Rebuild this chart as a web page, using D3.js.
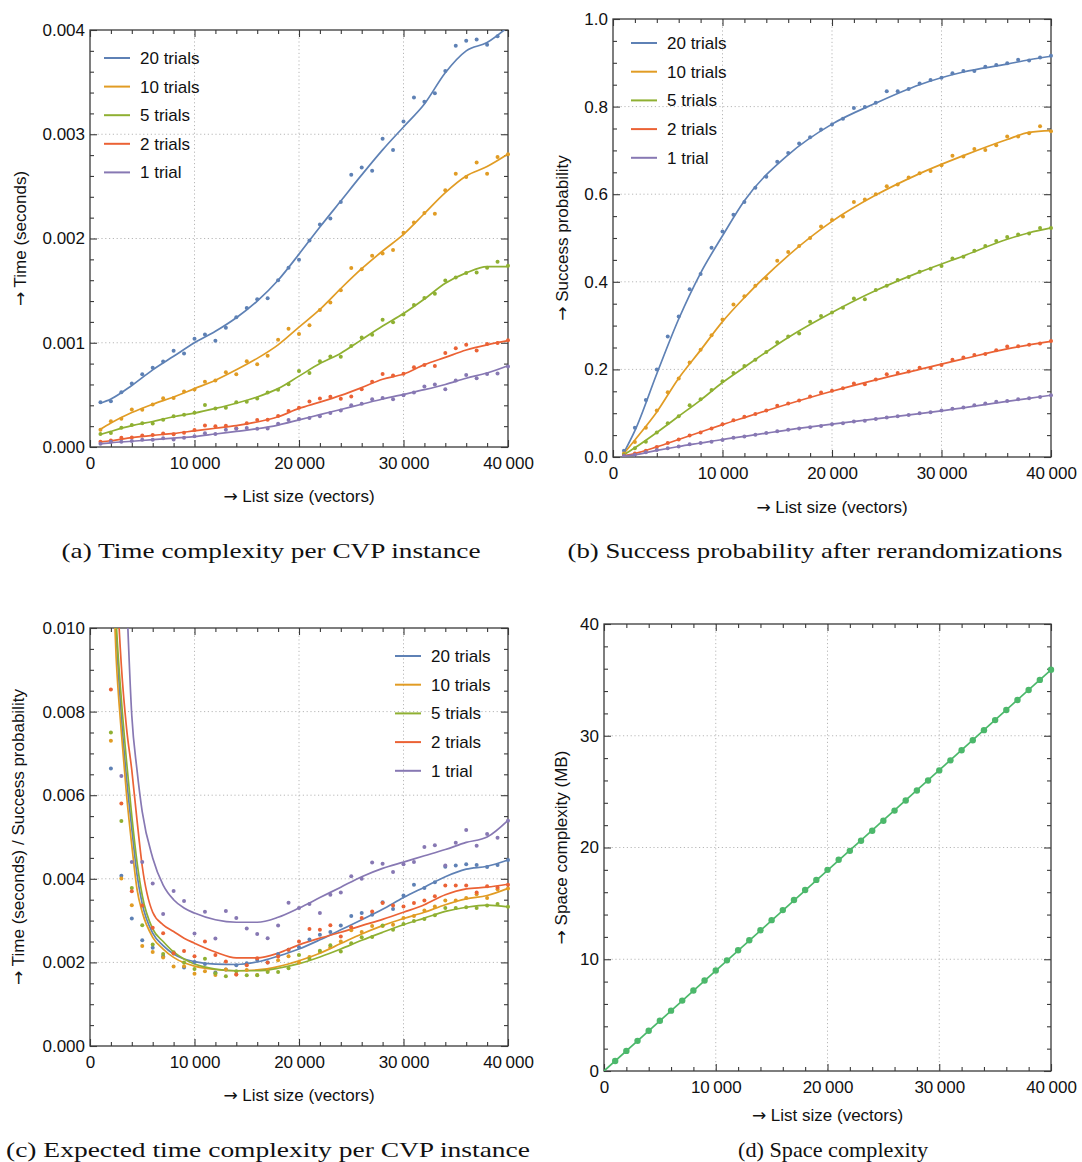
<!DOCTYPE html>
<html>
<head>
<meta charset="utf-8">
<script src="https://cdn.jsdelivr.net/npm/d3@7"></script>
<style>
  body { margin: 0; background: #fff; }
  text { font-family: "Liberation Sans", Arial, sans-serif; }
  text.caption { font-family: "Liberation Serif", "DejaVu Serif", serif; }
  tspan.arrow { font-family: "DejaVu Sans", sans-serif; }
</style>
</head>
<body>
<svg id="chart" width="1082" height="1162"></svg>
<script>
// list sizes (x) shared by every measured series
const listSize = [1000, 2000, 3000, 4000, 5000, 6000, 7000, 8000, 9000, 10000,
  11000, 12000, 13000, 14000, 15000, 16000, 17000, 18000, 19000, 20000,
  21000, 22000, 23000, 24000, 25000, 26000, 27000, 28000, 29000, 30000,
  31000, 32000, 33000, 34000, 35000, 36000, 37000, 38000, 39000, 40000];

const seriesNames = ["20 trials", "10 trials", "5 trials", "2 trials", "1 trial"];
const seriesColors = ["#5e81b5", "#e19c24", "#8fb032", "#eb6235", "#8778b3"];

// (a) time per CVP instance (seconds)
const timeA20 = [0.00043, 0.00044, 0.000525, 0.00061, 0.000697, 0.00076, 0.00082, 0.000924, 0.000898, 0.001038,
  0.00108, 0.00102, 0.001143, 0.001245, 0.001334, 0.001417, 0.001427, 0.0016, 0.00172, 0.001796,
  0.00198, 0.002135, 0.002192, 0.00235, 0.002612, 0.00268, 0.00265, 0.002958, 0.002849, 0.003122,
  0.003353, 0.003311, 0.003394, 0.003606, 0.00385, 0.003897, 0.00391, 0.003859, 0.003939, 0.00402];
const timeA10 = [0.000166, 0.000248, 0.00027, 0.00036, 0.000357, 0.000408, 0.000468, 0.000471, 0.000532, 0.000551,
  0.000627, 0.000637, 0.000717, 0.000697, 0.000822, 0.000793, 0.000876, 0.001029, 0.001134, 0.001083,
  0.001169, 0.001315, 0.001385, 0.001503, 0.001717, 0.001704, 0.001834, 0.001857, 0.001889, 0.002054,
  0.002154, 0.002244, 0.002237, 0.002462, 0.002622, 0.00259, 0.002728, 0.002622, 0.002782, 0.002808];
const timeA5 = [0.000124, 0.000134, 0.000185, 0.00021, 0.000229, 0.000226, 0.000261, 0.000296, 0.000309, 0.000328,
  0.000404, 0.000369, 0.000376, 0.00043, 0.000433, 0.000465, 0.000522, 0.000548, 0.000602, 0.000729,
  0.00071, 0.000822, 0.000869, 0.000866, 0.000968, 0.001051, 0.001076, 0.00122, 0.001197, 0.001271,
  0.001363, 0.00143, 0.001471, 0.001596, 0.001627, 0.001669, 0.001675, 0.00172, 0.001777, 0.001739];
const timeA2 = [0.00005, 0.000062, 0.000088, 0.00009, 0.00011, 0.000116, 0.00013, 0.000122, 0.000137, 0.000162,
  0.000207, 0.000198, 0.000203, 0.00018, 0.000227, 0.000259, 0.000262, 0.000297, 0.000345, 0.000377,
  0.000437, 0.000465, 0.000481, 0.000462, 0.000485, 0.000553, 0.000626, 0.0007, 0.000686, 0.000702,
  0.000765, 0.000786, 0.000778, 0.000902, 0.000947, 0.00098, 0.000925, 0.000988, 0.000997, 0.001024];
const timeA1 = [0.000032, 0.000051, 0.000051, 0.000057, 0.00007, 0.00007, 0.000083, 0.000073, 0.000089, 0.000102,
  0.000131, 0.000124, 0.000166, 0.000175, 0.000182, 0.000175, 0.000178, 0.000223, 0.000258, 0.000268,
  0.000277, 0.000296, 0.000325, 0.00035, 0.000401, 0.000414, 0.000459, 0.000471, 0.000459, 0.000497,
  0.000522, 0.00058, 0.000599, 0.000554, 0.000637, 0.000691, 0.000659, 0.000701, 0.000704, 0.000771];

// (a) fitted curves
const fitXA = [1000, 2000, 4000, 6000, 8000, 10000, 12000, 14000, 16000, 18000, 20000,
  22000, 24000, 26000, 28000, 30000, 32000, 34000, 36000, 38000, 40000];
const fitA20 = [0.00042, 0.00046, 0.00059, 0.00074, 0.00087, 0.001, 0.00111, 0.00124, 0.0014, 0.0016, 0.00185,
  0.00211, 0.00236, 0.00261, 0.00285, 0.00307, 0.00329, 0.00359, 0.0038, 0.00388, 0.00403];
const fitA10 = [0.00017, 0.00023, 0.00033, 0.00041, 0.00048, 0.00056, 0.00064, 0.00074, 0.00085, 0.00098, 0.00115,
  0.00132, 0.00152, 0.00171, 0.00188, 0.00204, 0.00224, 0.00244, 0.0026, 0.00269, 0.00281];
const fitA5 = [0.00012, 0.00015, 0.000205, 0.000245, 0.00029, 0.000325, 0.00037, 0.00042, 0.00048, 0.00056, 0.00068,
  0.0008, 0.0009, 0.00103, 0.00116, 0.00128, 0.00142, 0.00157, 0.00167, 0.00173, 0.00173];
const fitA2 = [0.00005, 0.00006, 0.00009, 0.000112, 0.00013, 0.000155, 0.00018, 0.000205, 0.00024, 0.00029, 0.00037,
  0.00043, 0.000495, 0.00057, 0.00065, 0.0007, 0.00079, 0.00086, 0.00093, 0.00098, 0.00102];
const fitA1 = [0.00003, 0.00004, 0.000055, 0.00007, 0.000085, 0.0001, 0.000125, 0.00015, 0.000175, 0.00021, 0.00026,
  0.00031, 0.00036, 0.00041, 0.00046, 0.000505, 0.00055, 0.0006, 0.00066, 0.00071, 0.00078];

// (b) success probability
const probB20 = [0.014, 0.067, 0.13, 0.2, 0.275, 0.321, 0.383, 0.418, 0.478, 0.515,
  0.553, 0.582, 0.615, 0.64, 0.674, 0.694, 0.716, 0.73, 0.748, 0.759,
  0.772, 0.797, 0.799, 0.809, 0.835, 0.835, 0.84, 0.853, 0.861, 0.866,
  0.876, 0.881, 0.881, 0.891, 0.895, 0.899, 0.907, 0.905, 0.912, 0.916];
const probB10 = [0.008, 0.034, 0.067, 0.106, 0.148, 0.179, 0.216, 0.245, 0.278, 0.314,
  0.348, 0.367, 0.391, 0.408, 0.448, 0.468, 0.482, 0.5, 0.526, 0.541,
  0.549, 0.582, 0.588, 0.6, 0.618, 0.622, 0.638, 0.648, 0.653, 0.666,
  0.688, 0.686, 0.703, 0.701, 0.712, 0.732, 0.732, 0.739, 0.755, 0.744];
const probB5 = [0.005, 0.02, 0.035, 0.056, 0.077, 0.093, 0.118, 0.132, 0.153, 0.173,
  0.192, 0.208, 0.222, 0.24, 0.262, 0.275, 0.282, 0.309, 0.322, 0.33,
  0.341, 0.362, 0.36, 0.381, 0.391, 0.404, 0.411, 0.423, 0.43, 0.436,
  0.453, 0.457, 0.471, 0.482, 0.493, 0.502, 0.508, 0.51, 0.523, 0.523];
const probB2 = [0.003, 0.008, 0.014, 0.023, 0.032, 0.04, 0.049, 0.056, 0.065, 0.075,
  0.084, 0.092, 0.098, 0.106, 0.117, 0.122, 0.129, 0.138, 0.147, 0.151,
  0.157, 0.168, 0.166, 0.177, 0.189, 0.192, 0.195, 0.204, 0.203, 0.21,
  0.222, 0.227, 0.233, 0.235, 0.244, 0.252, 0.253, 0.256, 0.259, 0.265];
const probB1 = [0.002, 0.005, 0.011, 0.016, 0.02, 0.024, 0.029, 0.032, 0.035, 0.039,
  0.044, 0.047, 0.051, 0.055, 0.059, 0.062, 0.065, 0.068, 0.071, 0.075,
  0.077, 0.081, 0.083, 0.087, 0.09, 0.093, 0.096, 0.1, 0.102, 0.106,
  0.11, 0.113, 0.118, 0.122, 0.126, 0.128, 0.132, 0.134, 0.137, 0.141];

const fitXB = [1000, 2000, 4000, 6000, 8000, 10000, 12000, 16000, 20000, 24000, 28000, 32000, 36000, 38000, 40000];
const fitB20 = [0.01, 0.06, 0.19, 0.315, 0.42, 0.505, 0.585, 0.69, 0.76, 0.808, 0.85, 0.879, 0.897, 0.907, 0.915];
const fitB10 = [0.008, 0.039, 0.103, 0.18, 0.244, 0.309, 0.364, 0.46, 0.538, 0.598, 0.647, 0.688, 0.725, 0.741, 0.745];
const fitB5 = [0.005, 0.021, 0.056, 0.093, 0.13, 0.17, 0.205, 0.273, 0.33, 0.38, 0.422, 0.459, 0.497, 0.512, 0.523];
const fitB2 = [0.003, 0.008, 0.023, 0.04, 0.057, 0.074, 0.09, 0.121, 0.15, 0.176, 0.2, 0.224, 0.247, 0.256, 0.264];
const fitB1 = [0.002, 0.005, 0.015, 0.024, 0.032, 0.04, 0.047, 0.062, 0.075, 0.087, 0.099, 0.112, 0.127, 0.134, 0.141];

// (c) time / success probability (null = above the plotted range)
const expC20 = [null, 0.00664, 0.00407, 0.00305, 0.00253, 0.00235, 0.00215, 0.00221, 0.00188, 0.00201,
  0.00196, 0.00176, 0.00183, 0.00193, 0.00198, 0.00206, 0.002, 0.0022, 0.0023, 0.00236,
  0.00255, 0.00266, 0.00273, 0.00288, 0.00311, 0.00318, 0.00314, 0.00344, 0.00328, 0.0036,
  0.00386, 0.00378, 0.00392, 0.00429, 0.00432, 0.00435, 0.00433, 0.00428, 0.00433, 0.00445];
const expC10 = [null, 0.0073, 0.00401, 0.00337, 0.00239, 0.00225, 0.00212, 0.0019, 0.00191, 0.00173,
  0.00179, 0.0017, 0.00183, 0.00171, 0.00182, 0.0017, 0.0018, 0.00205, 0.00215, 0.002,
  0.00213, 0.00225, 0.00236, 0.0025, 0.00277, 0.00273, 0.00287, 0.00287, 0.0029, 0.00306,
  0.00311, 0.00324, 0.00334, 0.00348, 0.00348, 0.00354, 0.00363, 0.00354, 0.00375, 0.00377];
const expC5 = [null, 0.0075, 0.00538, 0.00378, 0.00289, 0.00243, 0.0022, 0.00224, 0.002, 0.00184,
  0.00209, 0.00174, 0.00167, 0.00179, 0.00169, 0.00169, 0.00177, 0.00177, 0.00186, 0.00218,
  0.00208, 0.00228, 0.00241, 0.00226, 0.00246, 0.0026, 0.00261, 0.00288, 0.00278, 0.00292,
  0.00299, 0.00304, 0.00313, 0.0033, 0.0033, 0.00332, 0.0033, 0.00336, 0.0034, 0.00333];
const expC2 = [null, 0.00853, 0.0058, 0.0037, 0.00336, 0.00283, 0.0027, 0.00222, 0.00227, 0.00215,
  0.0025, 0.00218, 0.00202, 0.00171, 0.00193, 0.0021, 0.002, 0.00214, 0.0023, 0.0025,
  0.0028, 0.00278, 0.00289, 0.00262, 0.00284, 0.00306, 0.00322, 0.00342, 0.00336, 0.00334,
  0.00342, 0.00348, 0.00358, 0.00384, 0.00384, 0.00384, 0.00367, 0.00382, 0.00379, 0.00386];
const expC1 = [null, null, 0.00646, 0.0044, 0.0044, 0.00389, 0.00316, 0.00371, 0.00347, 0.00269,
  0.00321, 0.00257, 0.00323, 0.00306, 0.00281, 0.00268, 0.00258, 0.00288, 0.00343, 0.0033,
  0.0034, 0.00318, 0.00362, 0.00367, 0.00406, 0.004, 0.00439, 0.00436, 0.00416, 0.00435,
  0.0044, 0.00476, 0.0048, 0.00432, 0.00486, 0.00517, 0.00479, 0.00507, 0.00498, 0.00539];

const fitXC = [2000, 2500, 3000, 3500, 4000, 4500, 5000, 6000, 7000, 8000, 9000, 10000, 12000, 14000,
  16000, 18000, 20000, 22000, 24000, 26000, 28000, 30000, 32000, 34000, 36000, 38000, 40000];
const fitC20 = [0.013, 0.0099, 0.0079, 0.0064, 0.0052, 0.0041, 0.0034, 0.0027, 0.0024, 0.0022, 0.00208, 0.00202, 0.00196, 0.00195,
  0.00201, 0.00215, 0.00232, 0.00254, 0.00278, 0.00302, 0.00327, 0.00355, 0.0038, 0.00405, 0.00423, 0.0043, 0.00445];
const fitC10 = [0.0125, 0.0093, 0.0075, 0.006, 0.0048, 0.00375, 0.0032, 0.0026, 0.00232, 0.00212, 0.00199, 0.00191, 0.00183, 0.0018,
  0.00182, 0.0019, 0.00204, 0.00222, 0.00245, 0.00268, 0.00288, 0.00305, 0.0032, 0.00338, 0.00352, 0.0036, 0.00377];
const fitC5 = [0.0135, 0.0102, 0.0083, 0.0068, 0.0055, 0.0044, 0.0036, 0.0028, 0.0025, 0.00225, 0.00208, 0.00196, 0.00184, 0.0018,
  0.0018, 0.00186, 0.00197, 0.00213, 0.00232, 0.00253, 0.00272, 0.0029, 0.00306, 0.00322, 0.00332, 0.00337, 0.00333];
const fitC2 = [0.015, 0.0115, 0.0091, 0.0076, 0.0066, 0.0054, 0.0043, 0.0032, 0.0029, 0.00274, 0.00258, 0.00246, 0.00225, 0.00211,
  0.00211, 0.00222, 0.00242, 0.00258, 0.00272, 0.00288, 0.00303, 0.0032, 0.00338, 0.00362, 0.00376, 0.0038, 0.00387];
const fitC1 = [0.025, 0.018, 0.0145, 0.0108, 0.0079, 0.0066, 0.0056, 0.0045, 0.00385, 0.0035, 0.0033, 0.00318, 0.00302, 0.00296,
  0.00296, 0.00308, 0.0033, 0.00355, 0.0038, 0.00405, 0.00425, 0.0044, 0.00455, 0.0047, 0.00487, 0.005, 0.0054];

// (d) space complexity (MB)
const spaceD = [0.9, 1.8, 2.7, 3.6, 4.5, 5.4, 6.3, 7.2, 8.1, 9.0,
  9.9, 10.8, 11.7, 12.6, 13.5, 14.4, 15.3, 16.2, 17.1, 18.0,
  18.9, 19.7, 20.6, 21.5, 22.4, 23.3, 24.2, 25.1, 26.0, 26.9,
  27.8, 28.7, 29.6, 30.5, 31.4, 32.3, 33.2, 34.1, 35.0, 35.9];
const fitXD = [0, 40000];
const fitD = [0, 35.9];

// tick values
const xMajor = [0, 10000, 20000, 30000, 40000];
const xMinor = [2000, 4000, 6000, 8000, 12000, 14000, 16000, 18000, 22000, 24000, 26000, 28000, 32000, 34000, 36000, 38000];

const svg = d3.select("#chart");
const fmtX = d => d === 0 ? "0" : d3.format(",")(d).replace(",", "\u2009");

const panels = [
  {
    box: { l: 90, r: 508, t: 30, b: 447 },
    yDomain: [0, 0.004],
    yMajor: [0, 0.001, 0.002, 0.003, 0.004],
    yMinorStep: 0.0002,
    yFmt: d3.format(".3f"),
    series: [timeA20, timeA10, timeA5, timeA2, timeA1],
    fitX: fitXA, fits: [fitA20, fitA10, fitA5, fitA2, fitA1],
    legend: { x: 104, y: 58, dy: 28.6 },
    yTitle: "Time (seconds)", yTitleX: 26,
    xTitleY: 502,
    caption: "(a) Time complexity per CVP instance", capX: 271, capY: 558, capLen: 419
  },
  {
    box: { l: 613, r: 1051, t: 19, b: 457 },
    yDomain: [0, 1],
    yMajor: [0, 0.2, 0.4, 0.6, 0.8, 1.0],
    yMinorStep: 0.05,
    yFmt: d3.format(".1f"),
    series: [probB20, probB10, probB5, probB2, probB1],
    fitX: fitXB, fits: [fitB20, fitB10, fitB5, fitB2, fitB1],
    legend: { x: 631, y: 43, dy: 28.7 },
    yTitle: "Success probability", yTitleX: 568,
    xTitleY: 513,
    caption: "(b) Success probability after rerandomizations", capX: 815, capY: 558, capLen: 495
  },
  {
    box: { l: 90, r: 508, t: 628, b: 1046 },
    yDomain: [0, 0.01],
    yMajor: [0, 0.002, 0.004, 0.006, 0.008, 0.01],
    yMinorStep: 0.0005,
    yFmt: d3.format(".3f"),
    series: [expC20, expC10, expC5, expC2, expC1],
    fitX: fitXC, fits: [fitC20, fitC10, fitC5, fitC2, fitC1],
    legend: { x: 395, y: 656, dy: 28.7 },
    yTitle: "Time (seconds) / Success probability", yTitleX: 24,
    xTitleY: 1101,
    caption: "(c) Expected time complexity per CVP instance", capX: 268, capY: 1157, capLen: 524
  },
  {
    box: { l: 604, r: 1051, t: 624, b: 1071 },
    yDomain: [0, 40],
    yMajor: [0, 10, 20, 30, 40],
    yMinorStep: 2,
    yFmt: d3.format("d"),
    series: [spaceD],
    fitX: fitXD, fits: [fitD],
    colors: ["#4cb86b"],
    dotR: 3.2,
    yTitle: "Space complexity (MB)", yTitleX: 567,
    xTitleY: 1121,
    caption: "(d) Space complexity", capX: 833, capY: 1157, capLen: 190
  }
];

panels.forEach((p, i) => drawPanel(p, i));

function arrowTitle(sel, label) {
  sel.append("tspan").attr("class", "arrow").text("\u2192");
  sel.append("tspan").text(" " + label);
}

function drawPanel(p, idx) {
  const { l, r, t, b } = p.box;
  const colors = p.colors || seriesColors;
  const x = d3.scaleLinear().domain([0, 40000]).range([l, r]);
  const y = d3.scaleLinear().domain(p.yDomain).range([b, t]);
  const g = svg.append("g");

  const clipId = "clip" + idx;
  svg.append("clipPath").attr("id", clipId)
    .append("rect").attr("x", l - 4).attr("y", t).attr("width", r - l + 8).attr("height", b - t);

  // dotted grid
  const grid = g.append("g").attr("stroke", "#b8b8b8").attr("stroke-width", 1).attr("stroke-dasharray", "1.2,2.6");
  grid.selectAll("line.gx").data(xMajor.slice(1, -1)).join("line")
    .attr("x1", d => x(d)).attr("x2", d => x(d)).attr("y1", t).attr("y2", b);
  grid.selectAll("line.gy").data(p.yMajor.slice(1, -1)).join("line")
    .attr("x1", l).attr("x2", r).attr("y1", d => y(d)).attr("y2", d => y(d));

  const yMinor = d3.range(p.yDomain[0], p.yDomain[1] + p.yMinorStep / 2, p.yMinorStep)
    .filter(v => !p.yMajor.some(m => Math.abs(m - v) < p.yMinorStep / 4));

  function styleAxis(sel) {
    sel.select(".domain").remove();
    sel.selectAll("line").attr("stroke", "#3a3a3a").attr("stroke-width", 1.1);
    sel.selectAll("text").attr("fill", "#111").attr("font-size", 17);
    sel.attr("font-size", null).attr("font-family", null);
  }

  // bottom / top
  g.append("g").attr("transform", `translate(0,${b})`)
    .call(d3.axisBottom(x).tickValues(xMajor).tickSize(-7).tickPadding(10).tickFormat(fmtX)).call(styleAxis);
  g.append("g").attr("transform", `translate(0,${b})`)
    .call(d3.axisBottom(x).tickValues(xMinor).tickSize(-4).tickFormat("")).call(styleAxis);
  g.append("g").attr("transform", `translate(0,${t})`)
    .call(d3.axisTop(x).tickValues(xMajor).tickSize(-7).tickFormat("")).call(styleAxis);
  g.append("g").attr("transform", `translate(0,${t})`)
    .call(d3.axisTop(x).tickValues(xMinor).tickSize(-4).tickFormat("")).call(styleAxis);
  // left / right
  g.append("g").attr("transform", `translate(${l},0)`)
    .call(d3.axisLeft(y).tickValues(p.yMajor).tickSize(-7).tickPadding(5).tickFormat(p.yFmt)).call(styleAxis);
  g.append("g").attr("transform", `translate(${l},0)`)
    .call(d3.axisLeft(y).tickValues(yMinor).tickSize(-4).tickFormat("")).call(styleAxis);
  g.append("g").attr("transform", `translate(${r},0)`)
    .call(d3.axisRight(y).tickValues(p.yMajor).tickSize(-7).tickFormat("")).call(styleAxis);
  g.append("g").attr("transform", `translate(${r},0)`)
    .call(d3.axisRight(y).tickValues(yMinor).tickSize(-4).tickFormat("")).call(styleAxis);

  // frame
  g.append("rect").attr("x", l).attr("y", t).attr("width", r - l).attr("height", b - t)
    .attr("fill", "none").attr("stroke", "#3a3a3a").attr("stroke-width", 1.3);

  const plot = g.append("g").attr("clip-path", `url(#${clipId})`);

  // fitted curves
  const line = d3.line().x(d => x(d[0])).y(d => y(d[1])).curve(d3.curveMonotoneX);
  p.fits.forEach((f, s) => {
    plot.append("path")
      .datum(p.fitX.map((xv, j) => [xv, f[j]]))
      .attr("d", line)
      .attr("fill", "none")
      .attr("stroke", colors[s])
      .attr("stroke-width", 1.7);
  });

  // measured points
  p.series.forEach((vals, s) => {
    plot.append("g").attr("fill", colors[s])
      .selectAll("circle")
      .data(listSize.map((xv, j) => [xv, vals[j]]).filter(d => d[1] !== null))
      .join("circle")
      .attr("cx", d => x(d[0]))
      .attr("cy", d => y(d[1]))
      .attr("r", p.dotR || 2);
  });

  // legend
  if (p.legend) {
    const lg = g.append("g");
    seriesNames.forEach((name, s) => {
      const yy = p.legend.y + s * p.legend.dy;
      lg.append("line").attr("x1", p.legend.x).attr("x2", p.legend.x + 26)
        .attr("y1", yy).attr("y2", yy).attr("stroke", colors[s]).attr("stroke-width", 2);
      lg.append("text").attr("x", p.legend.x + 36).attr("y", yy + 6)
        .attr("font-size", 17).attr("fill", "#111").text(name);
    });
  }

  // axis titles
  g.append("text").attr("x", (l + r) / 2).attr("y", p.xTitleY)
    .attr("text-anchor", "middle").attr("font-size", 17).attr("fill", "#111")
    .call(arrowTitle, "List size (vectors)");
  g.append("text")
    .attr("transform", `translate(${p.yTitleX},${(t + b) / 2}) rotate(-90)`)
    .attr("text-anchor", "middle").attr("font-size", 17).attr("fill", "#111")
    .call(arrowTitle, p.yTitle);

  // caption
  g.append("text").attr("class", "caption")
    .attr("x", p.capX).attr("y", p.capY)
    .attr("text-anchor", "middle")
    .attr("font-size", 22).attr("fill", "#111")
    .attr("textLength", p.capLen).attr("lengthAdjust", "spacingAndGlyphs")
    .text(p.caption);
}
</script>
</body>
</html>
